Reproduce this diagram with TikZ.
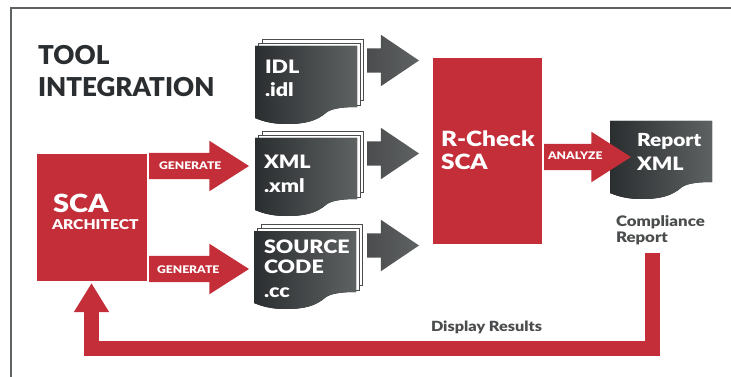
\documentclass[tikz,border=0pt]{standalone}
\usepackage{fontspec}
\setmainfont{Lato}[BoldFont={Lato Black},FakeStretch=1.16]
\newfontfamily\titlefont{Lato Black}
\usetikzlibrary{arrows.meta, shapes.arrows}
\definecolor{scared}{HTML}{C32E38}
\definecolor{docdark}{HTML}{2B2E30}
\definecolor{docgrey}{HTML}{5F6262}
\definecolor{labelgrey}{HTML}{4A4C4D}
\tikzset{
  lbl/.style={anchor=base west, inner sep=0pt, outer sep=0pt, font=\bfseries},
  whitelbl/.style={lbl, text=white},
  redarrow/.style={single arrow, draw=none, fill=scared, anchor=tail, inner sep=0pt, outer sep=0pt,
    single arrow head extend=12pt, single arrow tip angle=65},
  greyarrow/.style={single arrow, draw=none, left color=labelgrey, right color=docgrey, anchor=tail,
    inner sep=0pt, outer sep=0pt, minimum height=52pt,
    single arrow head extend=13.5pt, single arrow tip angle=68},
  redbox/.style={draw=none, fill=scared, inner sep=0pt, outer sep=0pt},
  docsheet/.pic={
    \fill[left color=docdark, right color=docgrey] (0,0) -- (102,0) -- (102,61)
      .. controls (90,61) and (78,62) .. (72,66)
      .. controls (62,75) and (50,78) .. (32,78)
      .. controls (22,78) and (12,77) .. (0,72) -- cycle;
  },
  docstack/.pic={
    \draw[labelgrey, fill=white, line width=.7pt] (7,-7) rectangle (108,54);
    \draw[labelgrey, fill=white, line width=.7pt] (3,-3) rectangle (105,59);
    \pic at (0,0) {docsheet};
  }
}
\newcommand{\shaftred}{\rule{0pt}{26pt}}
\newcommand{\shaftgrey}{\rule{0pt}{24pt}}
\begin{document}
\begin{tikzpicture}[x=1pt,y=-1pt]
  \useasboundingbox (0,0) rectangle (731,377);
  % frame
  \coordinate (framebl) at (11,377);
  \coordinate (frametl) at (11,8);
  \coordinate (frametr) at (731,8);
  \draw[line width=2.5pt, docgrey] (framebl) -- (frametl) -- (frametr);
  % title
  \node[lbl, font=\titlefont\fontsize{26}{26}\selectfont, text=docdark] (tool) at (38,65) {TOOL};
  \node[lbl, font=\titlefont\fontsize{26}{26}\selectfont, text=docdark] (integration) at (38,97) {INTEGRATION};
  % boxes
  \node[redbox, minimum width=110pt, minimum height=127pt] (sca) at (92,217.5) {};
  \node[redbox, minimum width=109pt, minimum height=186pt] (rcheck) at (487,151) {};
  \node[whitelbl, font=\bfseries\fontsize{25}{25}\selectfont] (scatitle) at (53,212) {SCA};
  \node[whitelbl, font=\bfseries\fontsize{13.5}{13.5}\selectfont] (scasub) at (52,229) {ARCHITECT};
  \node[whitelbl, font=\bfseries\fontsize{21}{21}\selectfont] (rchecktitle) at (441,147) {R-Check};
  \node[whitelbl, font=\bfseries\fontsize{21}{21}\selectfont] (rcheckscatitle) at (441,170) {SCA};
  % documents
  \pic at (255,46) {docstack};
  \pic at (255,138) {docstack};
  \pic at (254,231) {docstack};
  \pic at (610,121) {docsheet};
  \node[whitelbl, font=\bfseries\fontsize{18.5}{18.5}\selectfont] (idl) at (265,73.5) {IDL};
  \node[whitelbl, font=\bfseries\fontsize{18.5}{18.5}\selectfont] (idlext) at (265,97) {.idl};
  \node[whitelbl, font=\bfseries\fontsize{18.5}{18.5}\selectfont] (xml) at (264,168) {XML};
  \node[whitelbl, font=\bfseries\fontsize{18.5}{18.5}\selectfont] (xmlext) at (264,192) {.xml};
  \node[whitelbl, font=\bfseries\fontsize{18.5}{18.5}\selectfont] (source) at (264,253) {SOURCE};
  \node[whitelbl, font=\bfseries\fontsize{18.5}{18.5}\selectfont] (code) at (264,273) {CODE};
  \node[whitelbl, font=\bfseries\fontsize{18.5}{18.5}\selectfont] (ccext) at (264,297) {.cc};
  \node[whitelbl, font=\bfseries\fontsize{18}{18}\selectfont] (report) at (637,147) {Report};
  \node[whitelbl, font=\bfseries\fontsize{18.5}{18.5}\selectfont] (reportxml) at (637,171) {XML};
  % block arrows
  \node[redarrow, minimum height=100pt] (genxml) at (149,166) {\shaftred};
  \node[redarrow, minimum height=100pt] (gensrc) at (149,269) {\shaftred};
  \node[redarrow, minimum height=87pt] (analyze) at (544,157) {\shaftred};
  \node[greyarrow] (idlout) at (367,60.5) {\shaftgrey};
  \node[greyarrow] (xmlout) at (367,153.5) {\shaftgrey};
  \node[greyarrow] (srcout) at (367,245.5) {\shaftgrey};
  \node[whitelbl, font=\bfseries\fontsize{10.5}{10.5}\selectfont] (genxmllbl) at (159,170) {GENERATE};
  \node[whitelbl, font=\bfseries\fontsize{10.5}{10.5}\selectfont] (gensrclbl) at (157,273) {GENERATE};
  \node[whitelbl, font=\bfseries\fontsize{10.5}{10.5}\selectfont] (analyzelbl) at (548,160) {ANALYZE};
  % feedback
  \coordinate (fbstart) at (652,253);
  \coordinate (fbright) at (652,348.5);
  \coordinate (fbleft) at (91.5,348.5);
  \coordinate (fbend) at (91.5,283);
  \draw[scared, line width=15pt, -{Triangle[length=29pt,width=33pt]}] (fbstart) -- (fbright) -- (fbleft) -- (fbend);
  % captions
  \node[lbl, font=\bfseries\fontsize{14.5}{14.5}\selectfont, text=labelgrey] (compliance) at (616,226) {Compliance};
  \node[lbl, font=\bfseries\fontsize{14.5}{14.5}\selectfont, text=labelgrey] (compreport) at (616,242) {Report};
  \node[lbl, font=\bfseries\fontsize{14}{14}\selectfont, text=labelgrey] (display) at (431,331) {Display Results};
\end{tikzpicture}
\end{document}
